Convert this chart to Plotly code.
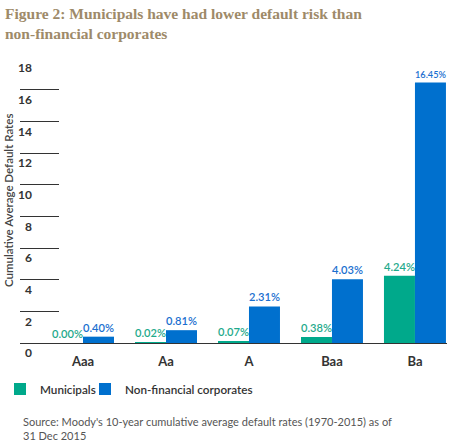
import plotly.graph_objects as go

categories = ["Aaa", "Aa", "A", "Baa", "Ba"]
municipals = [0.00, 0.02, 0.07, 0.38, 4.24]
corporates = [0.40, 0.81, 2.31, 4.03, 16.45]
muni_labels = ["0.00%", "0.02%", "0.07%", "0.38%", "4.24%"]
corp_labels = ["0.40%", "0.81%", "2.31%", "4.03%", "16.45%"]
y_ticks = [0, 2, 4, 6, 8, 10, 12, 14, 16, 18]

GREEN = "#00A98B"
BLUE = "#0070CE"
DARK = "#333333"
FONT = "Lato"

W, H = 452, 441
L, R, T, B = 20, 5, 58, 98
plot_w = W - L - R
plot_h = H - T - B

fig = go.Figure()
fig.add_trace(go.Bar(
    x=categories, y=municipals, name="Municipals",
    marker=dict(color=GREEN, line=dict(width=0)),
    text=muni_labels, textposition="outside", cliponaxis=False,
    textfont=dict(family=FONT, size=11.5, color="#1FAA8C", weight=600),
    legend="legend",
))
fig.add_trace(go.Bar(
    x=categories, y=corporates, name="Non-financial corporates",
    marker=dict(color=BLUE, line=dict(width=0)),
    text=corp_labels, textposition="outside", cliponaxis=False,
    textfont=dict(family=FONT, size=11.5, color="#1A6FCF", weight=600),
    legend="legend2",
))

legend_font = dict(family=FONT, size=11.7, color=DARK, weight=600)
legend_y = -(389 - 343) / plot_h

fig.update_layout(
    width=W, height=H,
    margin=dict(l=L, r=R, t=T, b=B, autoexpand=False),
    paper_bgcolor="white", plot_bgcolor="white",
    barmode="group", bargap=0.253, bargroupgap=0,
    font=dict(family=FONT, color=DARK),
    xaxis=dict(
        type="category", range=[-0.759, 4.386],
        showline=True, linecolor=DARK, linewidth=1.2,
        ticks="", showgrid=False, zeroline=False,
        tickfont=dict(family=FONT, size=13, color=DARK, weight="bold"),
        ticklabelstandoff=6,
    ),
    yaxis=dict(
        range=[0, 18], tickvals=y_ticks, ticktext=[str(v) for v in y_ticks],
        ticks="inside", ticklen=39, tickwidth=1, tickcolor=DARK,
        showgrid=False, zeroline=False, showline=False,
        tickfont=dict(family=FONT, size=12, color=DARK, weight="bold"),
        ticklabelposition="outside", ticklabelstandoff=-13, ticklabelshift=10,
        ticklabeloverflow="allow",
    ),
    legend=dict(
        orientation="h", x=(0 - L) / plot_w, xanchor="left", y=legend_y, yanchor="middle",
        font=legend_font, bgcolor="rgba(0,0,0,0)", itemwidth=30,
    ),
    legend2=dict(
        orientation="h", x=(85 - L) / plot_w, xanchor="left", y=legend_y, yanchor="middle",
        font=legend_font, bgcolor="rgba(0,0,0,0)", itemwidth=30,
    ),
    showlegend=True,
)

fig.add_annotation(
    text="Cumulative Average Default Rates", textangle=-90,
    xref="paper", yref="paper", x=(8.5 - L) / plot_w, y=0.5,
    xanchor="center", yanchor="middle", showarrow=False,
    font=dict(family=FONT, size=11.5, color="#444444", weight=600),
)

fig.add_annotation(
    text="Figure 2: Municipals have had lower default risk than<br>non-financial corporates",
    xref="paper", yref="paper", x=(3 - L) / plot_w, y=1 + (T - 3) / plot_h,
    xanchor="left", yanchor="top", align="left", showarrow=False,
    font=dict(family="Liberation Serif", size=15.5, color="#9E8A69", weight="bold"),
)

fig.add_annotation(
    text="Source: Moody's 10-year cumulative average default rates (1970-2015) as of<br>31 Dec 2015",
    xref="paper", yref="paper", x=1 / plot_w, y=-(413 - 343) / plot_h,
    xanchor="left", yanchor="top", align="left", showarrow=False,
    font=dict(family=FONT, size=11, color="#555555"),
)

fig.write_html("out.html", config={"displayModeBar": False},
               post_script="document.body.style.margin='0';")
